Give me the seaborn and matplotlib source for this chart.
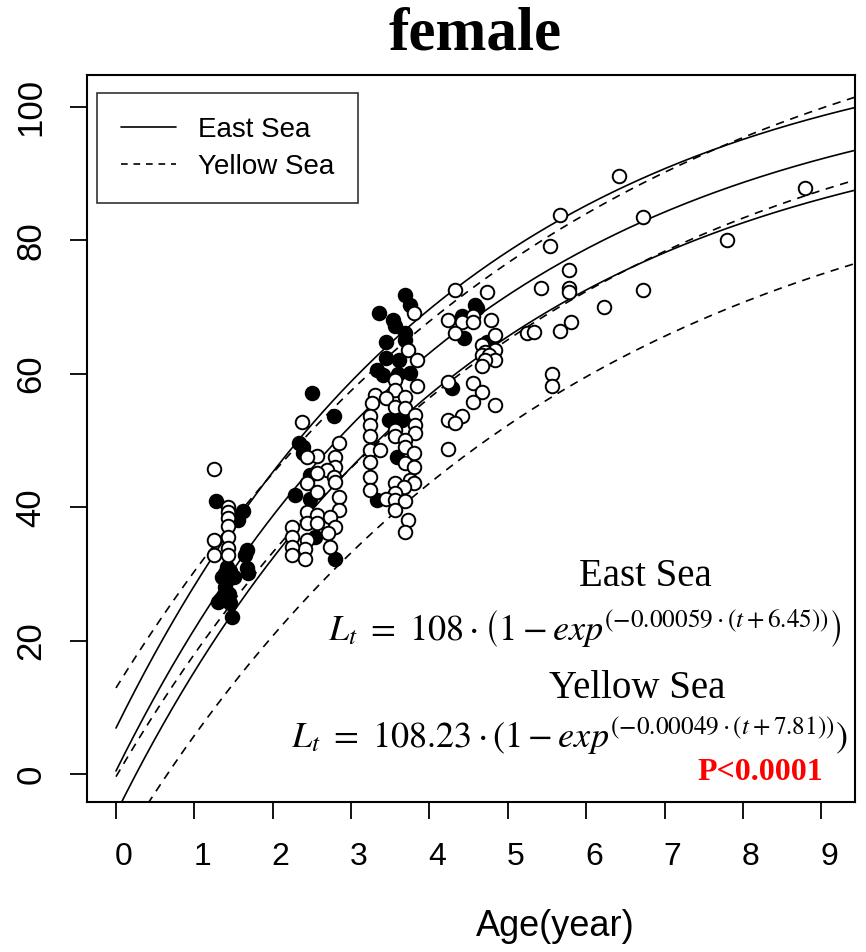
import numpy as np
import pandas as pd
import matplotlib
matplotlib.use("Agg")
import matplotlib.pyplot as plt
from matplotlib.lines import Line2D
from matplotlib.transforms import ScaledTranslation
import seaborn as sns

# ---- observed female lengths by age ----
east_age = [1.28, 1.62, 1.56, 1.67, 1.65, 1.42, 1.39, 1.67, 1.69, 1.42, 1.39, 1.37, 1.33, 1.46, 1.48,
            1.45, 1.50, 1.35, 1.44, 1.30,
            2.50, 2.78, 2.33, 2.39, 2.39, 2.48, 2.29, 2.47, 2.54, 2.80,
            3.69, 3.75, 3.35, 3.54, 3.56, 3.69, 3.69, 3.44, 3.44, 3.61, 3.33, 3.41, 3.75, 3.48, 3.65,
            3.58, 3.33, 3.58, 3.60,
            4.58, 4.61, 4.42, 4.44, 4.73, 4.29]
east_len = [41.0, 39.5, 38.1, 33.6, 32.8, 31.1, 30.1, 30.9, 30.1, 29.1, 28.0, 26.5, 26.1, 25.6, 23.5,
            30.5, 29.5, 29.5, 27.0, 25.8,
            57.1, 53.6, 49.6, 49.1, 48.1, 44.8, 41.8, 41.3, 35.6, 32.3,
            71.8, 70.3, 69.1, 68.1, 67.1, 66.1, 65.1, 64.8, 62.3, 62.1, 60.6, 59.8, 60.1, 53.1, 53.1,
            47.6, 41.1, 54.0, 60.0,
            70.3, 69.8, 68.6, 65.3, 64.8, 57.8]

yellow_age = [1.25, 1.43, 1.43, 1.43, 1.43, 1.43, 1.25, 1.25, 1.43, 1.43,
              2.37, 2.84, 2.56, 2.44, 2.80, 2.80, 2.69, 2.56, 2.78, 2.44, 2.56, 2.80, 2.84, 2.84, 2.44,
              2.56, 2.73, 2.44, 2.56, 2.80, 2.24, 2.24, 2.44, 2.41, 2.24, 2.24, 2.41, 2.73, 2.71,
              3.80, 3.73, 3.84, 3.56, 3.84, 3.56, 3.31, 3.44, 3.69, 3.27, 3.56, 3.69, 3.24, 3.82, 3.24,
              3.56, 3.82, 3.82, 3.24, 3.56, 3.69, 3.24, 3.37, 3.69, 3.80, 3.69, 3.24, 3.24, 3.80, 3.75,
              3.80, 3.24, 3.56, 3.67, 3.56, 3.44, 3.56, 3.69, 3.56, 3.73, 3.69,
              4.33, 4.73, 4.56, 4.24, 4.42, 4.56, 4.78, 4.33, 4.84, 4.67, 4.84, 4.71, 4.67, 4.76, 4.84,
              4.71, 4.67, 4.24, 4.56, 4.67, 4.56, 4.84, 4.24, 4.42, 4.33, 4.24,
              6.42, 5.67, 6.73, 8.79, 5.54, 7.80, 5.78, 5.42, 5.78, 5.78, 6.73, 6.23, 5.80, 5.67, 5.25,
              5.33, 5.56, 5.56]
yellow_len = [45.8, 40.1, 39.3, 38.4, 37.2, 35.6, 35.1, 32.8, 33.9, 32.8,
              52.8, 49.6, 47.7, 47.6, 47.6, 46.1, 45.6, 45.1, 44.6, 43.6, 42.3, 43.8, 41.6, 39.6, 39.3,
              38.8, 38.6, 37.6, 37.6, 37.1, 37.1, 35.6, 35.1, 33.8, 34.1, 32.8, 32.3, 34.1, 36.1,
              69.1, 63.6, 62.1, 59.1, 58.1, 57.6, 56.8, 56.3, 56.5, 55.6, 55.0, 54.8, 53.6, 53.8, 52.3,
              51.6, 52.3, 51.1, 50.6, 50.6, 50.1, 48.6, 48.6, 49.1, 48.1, 46.6, 46.8, 44.6, 46.1, 44.1,
              43.6, 42.6, 43.6, 43.1, 42.1, 41.3, 41.1, 40.9, 39.6, 38.1, 36.3,
              72.6, 72.3, 68.6, 68.1, 67.8, 67.8, 68.1, 66.1, 65.8, 64.3, 63.6, 63.3, 62.8, 62.8, 62.1,
              62.1, 61.1, 58.8, 58.6, 57.3, 55.8, 55.3, 53.1, 53.6, 52.6, 48.8,
              89.6, 83.8, 83.5, 87.8, 79.2, 80.1, 75.5, 72.9, 72.8, 72.3, 72.6, 70.0, 67.7, 66.4, 66.1,
              66.3, 60.0, 58.2]

# ---- von Bertalanffy curves: fit with upper / lower bands ----
curve_sea = ["East Sea", "East Sea", "East Sea", "Yellow Sea", "Yellow Sea", "Yellow Sea"]
curve_linf = [112.5, 106.3, 100.6, 123.1, 107.7, 96.4]
curve_k = [0.2257, 0.2241, 0.2225, 0.1727, 0.1863, 0.1800]
curve_t0 = [-0.280, -0.019, 0.256, -0.641, 0.020, 0.657]

x_ticks = [0, 1, 2, 3, 4, 5, 6, 7, 8, 9]
y_ticks = [0, 20, 40, 60, 80, 100]

sns.set_style("ticks")
plt.rcParams["font.family"] = ["Liberation Sans", "DejaVu Sans"]
plt.rcParams["mathtext.fontset"] = "stix"
for key in ["text.color", "axes.labelcolor", "xtick.color", "ytick.color", "axes.edgecolor"]:
    plt.rcParams[key] = "black"

fig = plt.figure(figsize=(8.66, 9.52), dpi=100)
ax = fig.add_axes([87 / 866, 1 - 802 / 952, 768 / 866, 727 / 952])

t_grid = np.linspace(0, 9.6, 400)
line_styles = {"East Sea": "-", "Yellow Sea": (0, (5, 4))}
for sea, linf, k, t0 in zip(curve_sea, curve_linf, curve_k, curve_t0):
    L = linf * (1 - np.exp(-k * (t_grid - t0)))
    sns.lineplot(x=t_grid, y=L, ax=ax, color="black", lw=1.2,
                 linestyle=line_styles[sea], estimator=None, sort=False, zorder=2)

east = pd.DataFrame({"age": east_age, "length": east_len})
yellow = pd.DataFrame({"age": yellow_age, "length": yellow_len})
sns.scatterplot(data=east, x="age", y="length", ax=ax, s=95, color="black",
                edgecolor="black", linewidth=1.4, zorder=3)
sns.scatterplot(data=yellow, x="age", y="length", ax=ax, s=95, color="white",
                edgecolor="black", linewidth=1.4, zorder=4)

ax.set_xlim(-0.37, 9.43)
ax.set_ylim(-4.2, 104.8)
ax.set_xticks(x_ticks)
ax.set_yticks(y_ticks)
ax.set_xlabel("")
ax.set_ylabel("")
for sp in ax.spines.values():
    sp.set_linewidth(1.5)
    sp.set_color("black")
ax.tick_params(axis="both", length=12.5, width=1.3, color="black", labelcolor="black")
ax.tick_params(axis="x", labelsize=23, pad=16)
ax.tick_params(axis="y", labelsize=25, pad=16, labelrotation=90)
for lbl in ax.get_yticklabels():
    lbl.set_va("center")
shift = ScaledTranslation(8 / 100, 0, fig.dpi_scale_trans)
for lbl in ax.get_xticklabels():
    lbl.set_transform(lbl.get_transform() + shift)

handles = [Line2D([], [], color="black", lw=1.2, linestyle="-"),
           Line2D([], [], color="black", lw=1.2, linestyle=(0, (4, 3.5)))]
leg = ax.legend(handles, ["East Sea", "Yellow Sea"], loc="upper left",
                bbox_to_anchor=(10 / 768, 1 - 18 / 727), borderaxespad=0,
                fontsize=20, frameon=True, fancybox=False, handlelength=2.0,
                handletextpad=0.8, labelspacing=0.4, borderpad=0.85)
leg.get_frame().set_edgecolor("black")
leg.get_frame().set_linewidth(1.2)

fig.text(475 / 866, 1 - 35 / 952, "female", ha="center", va="center",
         fontsize=44, fontweight="bold", family="Liberation Serif")
fig.text(555 / 866, 1 - 927 / 952, "Age(year)", ha="center", va="center", fontsize=26)

fig.text(645 / 866, 1 - 577 / 952, "East Sea", ha="center", va="center",
         fontsize=28, family="Liberation Serif")
fig.text(842 / 866, 1 - 628 / 952,
         r"$L_t\ =\ 108\cdot\left(1 - exp^{\left(-0.00059\cdot(t+6.45)\right)}\right)$",
         ha="right", va="center", fontsize=26)
fig.text(637 / 866, 1 - 688 / 952, "Yellow Sea", ha="center", va="center",
         fontsize=28, family="Liberation Serif")
fig.text(848 / 866, 1 - 735 / 952,
         r"$L_t\ =\ 108.23\cdot(1 - exp^{\left(-0.00049\cdot(t+7.81)\right)})$",
         ha="right", va="center", fontsize=26)
fig.text(760 / 866, 1 - 773 / 952, "P<0.0001", ha="center", va="center",
         fontsize=23, fontweight="bold", color="red", family="Liberation Serif")

fig.savefig("out.png", dpi=100)
